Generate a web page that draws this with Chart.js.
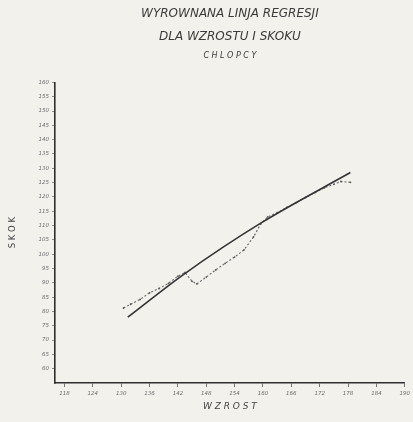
<!DOCTYPE html>
<html>
<head>
<meta charset="utf-8">
<script src="https://cdn.jsdelivr.net/npm/chart.js@4"></script>
<style>
  html, body { margin: 0; padding: 0; background: #f3f1ec; }
  #wrap { width: 413px; height: 422px; position: relative; }
</style>
</head>
<body>
<div id="wrap"><canvas id="c"></canvas></div>
<script>
// ---- data ----
const titleLines = ['WYROWNANA LINJA REGRESJI', 'DLA WZROSTU I SKOKU'];
const subtitleText = 'C H L O P C Y';
const xTitle = 'W Z R O S T';
const yTitle = 'S K O K';

const xTickValues = [118, 124, 130, 136, 142, 148, 154, 160, 166, 172, 178, 184, 190];
const yTickValues = [60, 65, 70, 75, 80, 85, 90, 95, 100, 105, 110, 115, 120, 125, 130, 135, 140, 145, 150, 155, 160];

// smoothed regression line (wzrost -> skok)
const regressionHeight = [131.4, 143.1, 159.7, 178.5];
const regressionJump   = [78.0, 92.8, 111.0, 128.5];

// dotted empirical means
const meanHeight = [130.5, 132, 134, 136, 138, 140, 142, 143.5, 145, 146, 148, 150, 152, 154, 156, 158, 159.5, 161, 163, 165, 167, 169, 171, 173, 175, 176.5, 178.5];
const meanJump   = [81.2, 82.5, 84.2, 86.5, 88.0, 89.8, 92.3, 93.6, 90.5, 89.6, 92.0, 94.5, 96.8, 99.0, 101.5, 106.0, 110.5, 113.0, 114.5, 116.3, 118.0, 119.8, 121.5, 123.2, 124.4, 125.4, 125.1];

const toPoints = (xs, ys) => xs.map((x, i) => ({ x: x, y: ys[i] }));

const ink = '#2f2f2f';
const tickInk = '#6a6a6a';

new Chart(document.getElementById('c'), {
  type: 'scatter',
  data: {
    datasets: [
      {
        label: 'linia regresji',
        data: toPoints(regressionHeight, regressionJump),
        showLine: true,
        borderColor: '#333',
        borderWidth: 1.6,
        pointRadius: 0,
        cubicInterpolationMode: 'monotone',
        fill: false
      },
      {
        label: 'srednie',
        data: toPoints(meanHeight, meanJump),
        showLine: true,
        borderColor: '#666',
        borderWidth: 1.1,
        borderDash: [2, 2],
        pointRadius: 0.9,
        pointBackgroundColor: '#555',
        pointBorderWidth: 0,
        fill: false
      }
    ]
  },
  options: {
    responsive: true,
    maintainAspectRatio: false,
    animation: false,
    layout: { padding: { top: 0, right: 7, bottom: 0, left: 0 } },
    plugins: {
      legend: { display: false },
      tooltip: { enabled: false },
      title: {
        display: true,
        fullSize: false,
        text: titleLines,
        color: '#3a3a3a',
        font: { family: 'DejaVu Sans', size: 12, style: 'italic', weight: 'normal', lineHeight: 1.92 },
        padding: { top: 2.5, bottom: 0 }
      },
      subtitle: {
        display: true,
        fullSize: false,
        text: subtitleText,
        color: '#3a3a3a',
        font: { family: 'DejaVu Sans', size: 8, style: 'italic', weight: 'normal', lineHeight: 1.2 },
        padding: { top: 2.5, bottom: 21.7 }
      }
    },
    scales: {
      x: {
        type: 'linear',
        min: 116,
        max: 190,
        afterBuildTicks: (s) => { s.ticks = xTickValues.map(v => ({ value: v })); },
        afterFit: (s) => { s.height = 39; },
        border: { display: true, color: ink, width: 1.6 },
        grid: { display: true, drawOnChartArea: false, drawTicks: true, tickLength: 4, color: '#555', lineWidth: 0.8 },
        ticks: { color: tickInk, font: { family: 'DejaVu Sans', size: 5.5, style: 'italic' }, padding: 3, maxRotation: 0, autoSkip: false },
        title: { display: true, text: xTitle, color: '#444', font: { family: 'DejaVu Sans', size: 9, style: 'italic', lineHeight: 1.2 }, padding: { top: 0, bottom: 9.6 } }
      },
      y: {
        type: 'linear',
        min: 55,
        max: 160,
        afterBuildTicks: (s) => { s.ticks = yTickValues.map(v => ({ value: v })); },
        afterFit: (s) => { s.width = 55; },
        border: { display: true, color: ink, width: 1.6 },
        grid: { display: true, drawOnChartArea: false, drawTicks: true, tickLength: 3, color: '#666', lineWidth: 0.7 },
        ticks: { color: tickInk, font: { family: 'DejaVu Sans', size: 5.5, style: 'italic' }, padding: 3, autoSkip: false },
        title: { display: true, text: yTitle, color: '#444', font: { family: 'DejaVu Sans', size: 8.5, lineHeight: 1.2 }, padding: { top: 7.9, bottom: 0 } }
      }
    }
  }
});
</script>
</body>
</html>
